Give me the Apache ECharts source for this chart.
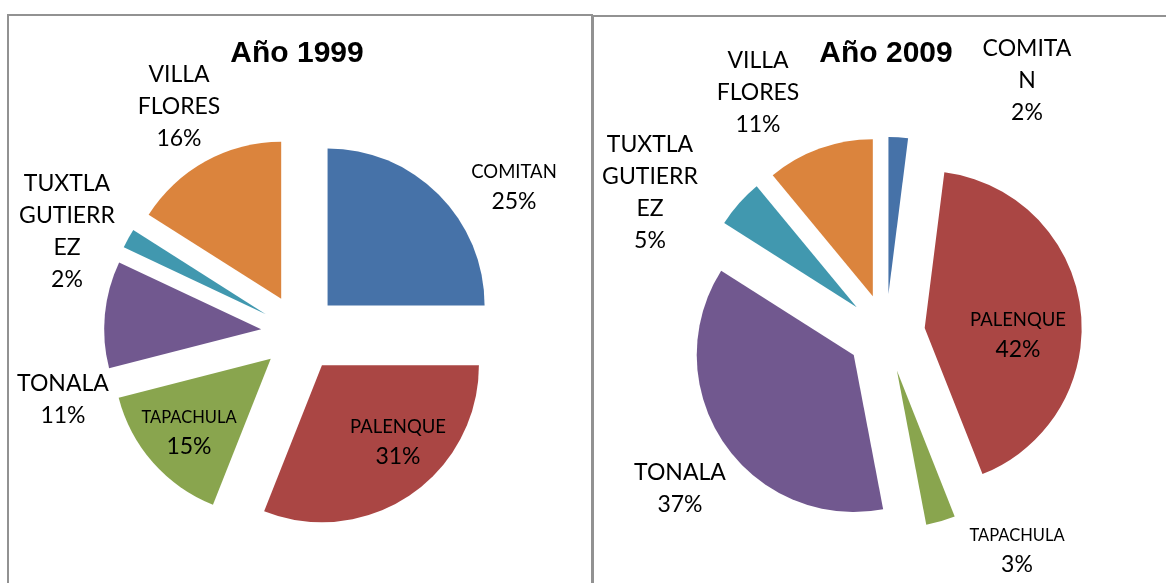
<!DOCTYPE html>
<html>
<head>
<meta charset="utf-8">
<title>Año 1999 / Año 2009</title>
<script src="https://cdn.jsdelivr.net/npm/echarts@6/dist/echarts.min.js"></script>
<style>
  html, body { margin: 0; padding: 0; background: #fff; }
  #chart { width: 1166px; height: 583px; }
</style>
</head>
<body>
<div id="chart"></div>
<script>
// municipios (mismo orden en ambos años)
const municipios = ['COMITAN', 'PALENQUE', 'TAPACHULA', 'TONALA', 'TUXTLA GUTIERREZ', 'VILLA FLORES']
const valores1999 = [25, 31, 15, 11, 2, 16]
const valores2009 = [2, 42, 3, 37, 5, 11]
const colores = ['#4672a8', '#aa4644', '#89a54e', '#71588f', '#4198af', '#db843d']

// cortes de línea como en las etiquetas originales
const cortes1999 = { 'TUXTLA GUTIERREZ': 'TUXTLA\nGUTIERR\nEZ', 'VILLA FLORES': 'VILLA\nFLORES' }
const cortes2009 = { 'COMITAN': 'COMITA\nN', 'TUXTLA GUTIERREZ': 'TUXTLA\nGUTIERR\nEZ', 'VILLA FLORES': 'VILLA\nFLORES' }

// tamaño del nombre en cada etiqueta: n grande, s mediano, t pequeño
const estilo1999 = ['s', 's', 't', 'n', 'n', 'n']
const estilo2009 = ['n', 's', 't', 'n', 'n', 'n']

// posición de cada etiqueta respecto al centro del pastel (px)
const etiquetas1999 = [[214, -145], [98, 110], [-111, 101], [-237, 67], [-233, -101], [-121, -226]]
const etiquetas2009 = [[141, -252], [132, 3], [131, 219], [-206, 156], [-236, -140], [-128, -240]]

const centros = [[300, 333], [886, 333]]
const radio = 157
const separacion = 39

const rich = {
  n: { fontFamily: 'Lato', fontSize: 23, lineHeight: 32, color: '#000', align: 'center' },
  s: { fontFamily: 'Lato', fontSize: 18.5, lineHeight: 28, color: '#000', align: 'center' },
  t: { fontFamily: 'Lato', fontSize: 16.5, lineHeight: 26, color: '#000', align: 'center' },
  p: { fontFamily: 'Lato', fontSize: 23, lineHeight: 32, color: '#000', align: 'center' },
}

// pastel visible, todas las rebanadas separadas
function makePie(idx, valores) {
  return {
    type: 'pie',
    center: centros[idx],
    radius: radio,
    startAngle: 90,
    clockwise: true,
    selectedMode: 'multiple',
    selectedOffset: separacion,
    emphasis: { disabled: true },
    itemStyle: { borderWidth: 0 },
    label: { show: false },
    labelLine: { show: false },
    data: municipios.map((m, i) => ({
      name: m,
      value: valores[i],
      selected: true,
      itemStyle: { color: colores[i] },
    })),
  }
}

// mismo pastel transparente que solo lleva las etiquetas
function makeLabels(idx, valores, cortes, estilos, posiciones) {
  return {
    type: 'pie',
    silent: true,
    z: 5,
    center: centros[idx],
    radius: radio,
    startAngle: 90,
    clockwise: true,
    avoidLabelOverlap: false,
    emphasis: { disabled: true },
    itemStyle: { color: 'rgba(0,0,0,0)', borderWidth: 0 },
    label: {
      show: true,
      position: 'outside',
      alignTo: 'none',
      formatter: p => {
        const nombre = cortes[p.name] || p.name
        return `{${estilos[p.dataIndex]}|${nombre}}\n{p|${p.percent}%}`
      },
      rich,
    },
    labelLine: { show: false },
    labelLayout: p => {
      const c = centros[idx]
      const pos = posiciones[p.dataIndex]
      return { x: c[0] + pos[0], y: c[1] + pos[1], align: 'center', verticalAlign: 'middle' }
    },
    data: municipios.map((m, i) => ({ name: m, value: valores[i] })),
  }
}

const chart = echarts.init(document.getElementById('chart'), null, { renderer: 'canvas' })

const titleStyle = {
  fontFamily: 'Liberation Sans',
  fontWeight: 'bold',
  fontSize: 30,
  color: '#000',
}

chart.setOption({
  backgroundColor: '#fff',
  animation: false,
  title: [
    { text: 'Año 1999', left: 297, top: 39, textAlign: 'center', padding: 0, textStyle: titleStyle },
    { text: 'Año 2009', left: 886, top: 39, textAlign: 'center', padding: 0, textStyle: titleStyle },
  ],
  graphic: [
    {
      type: 'rect', silent: true,
      shape: { x: 8, y: 15, width: 584, height: 620 },
      style: { fill: 'none', stroke: '#929292', lineWidth: 2 },
    },
    {
      type: 'rect', silent: true,
      shape: { x: 593, y: 16, width: 620, height: 620 },
      style: { fill: 'none', stroke: '#929292', lineWidth: 2 },
    },
  ],
  series: [
    makePie(0, valores1999),
    makePie(1, valores2009),
    makeLabels(0, valores1999, cortes1999, estilo1999, etiquetas1999),
    makeLabels(1, valores2009, cortes2009, estilo2009, etiquetas2009),
  ],
})
</script>
</body>
</html>
